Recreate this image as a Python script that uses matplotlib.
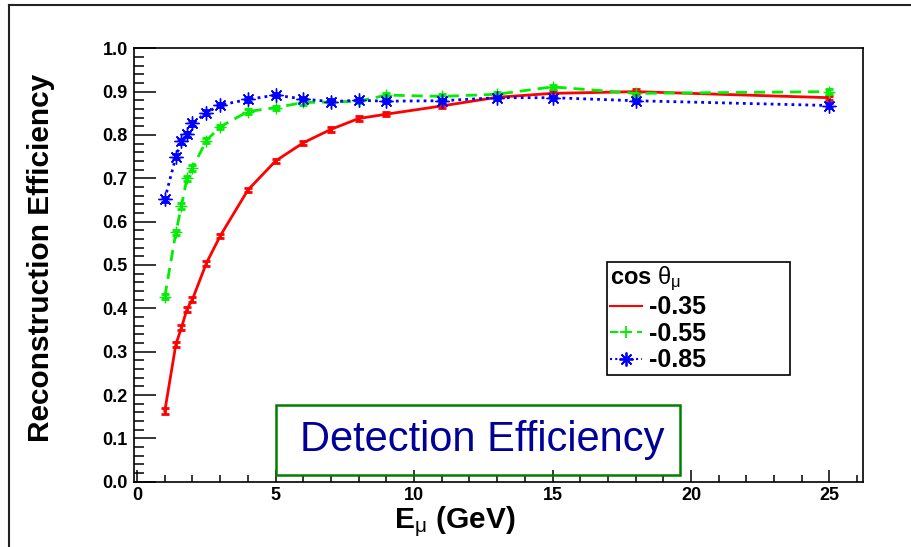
import numpy as np
import matplotlib
matplotlib.use("Agg")
import matplotlib.pyplot as plt
from matplotlib.lines import Line2D
from matplotlib.patches import Rectangle
from matplotlib.ticker import MultipleLocator

plt.rcParams['font.family'] = ['Liberation Sans', 'DejaVu Sans']
plt.rcParams['mathtext.fontset'] = 'custom'
plt.rcParams['mathtext.rm'] = 'Liberation Sans'
plt.rcParams['mathtext.it'] = 'Liberation Sans'
plt.rcParams['mathtext.bf'] = 'Liberation Sans:bold'

# muon energy (GeV)
energy = [1, 1.4, 1.6, 1.8, 2, 2.5, 3, 4, 5, 6, 7, 8, 9, 11, 13, 15, 18, 25]

# efficiency for the three cos(theta) bins
eff_035 = [0.163, 0.317, 0.355, 0.398, 0.421, 0.504, 0.567, 0.673, 0.740, 0.782,
           0.813, 0.838, 0.848, 0.867, 0.887, 0.896, 0.900, 0.886]
eff_055 = [0.427, 0.575, 0.636, 0.700, 0.724, 0.787, 0.819, 0.854, 0.863, 0.875,
           0.876, 0.878, 0.892, 0.889, 0.894, 0.911, 0.896, 0.900]
eff_085 = [0.652, 0.750, 0.785, 0.802, 0.827, 0.851, 0.869, 0.882, 0.892, 0.883,
           0.877, 0.880, 0.878, 0.879, 0.886, 0.886, 0.879, 0.868]
err = [0.006, 0.006, 0.006, 0.006, 0.006, 0.006, 0.005, 0.005, 0.005, 0.005,
       0.005, 0.005, 0.005, 0.005, 0.005, 0.005, 0.005, 0.005]

labels = ['-0.35', '-0.55', '-0.85']

W, H = 911, 547
fig = plt.figure(figsize=(W / 100, H / 100), dpi=100)
ax = fig.add_axes([133.5 / W, 1 - 481.7 / H, (862.7 - 133.5) / W, (481.7 - 48.3) / H])

styles = [dict(color='#ff0000', ls='-'),
          dict(color='#00ee00', ls=(0, (4, 2.5)), marker='+', ms=9),
          dict(color='#0000ff', ls=(0, (1, 1.5)), marker=(8, 2, 0), ms=10)]

handles = []
for vals, st in zip([eff_035, eff_055, eff_085], styles):
    ax.errorbar(energy, vals, yerr=err, lw=2, capsize=3, capthick=2, elinewidth=2, **st)
    handles.append(Line2D([], [], lw=1.5, mew=1.3, **st))

ax.set_xlim(-0.13, 26.2)
ax.set_ylim(0, 1.0)
ax.xaxis.set_major_locator(MultipleLocator(5))
ax.xaxis.set_minor_locator(MultipleLocator(1))
ax.yaxis.set_major_locator(MultipleLocator(0.1))
ax.yaxis.set_minor_locator(MultipleLocator(0.02))
ax.yaxis.set_major_formatter(plt.FormatStrFormatter('%.1f'))
ax.tick_params(axis='y', which='major', direction='in', length=15.8, width=1.1, pad=4)
ax.tick_params(axis='y', which='minor', direction='in', length=7.2, width=1.1)
ax.tick_params(axis='x', which='major', direction='in', length=8.6, width=1.1, pad=4)
ax.tick_params(axis='x', which='minor', direction='in', length=5, width=1.1)
ax.tick_params(top=False, right=False, which='both')
for lab in ax.get_xticklabels() + ax.get_yticklabels():
    lab.set_fontsize(13)
    lab.set_fontweight('bold')
for s in ax.spines.values():
    s.set_linewidth(1.2)

fig.text(41 / W, 1 - 257.5 / H, 'Reconstruction Efficiency', rotation=90,
         ha='center', va='center', fontsize=21.5, fontweight='bold')
fig.text(455 / W, 1 - 522 / H, r'E$_{\mu}$ (GeV)',
         ha='center', va='center', fontsize=21.5, fontweight='bold')

leg = fig.legend(handles, labels, loc='upper left',
                 bbox_to_anchor=(607 / W, 1 - 371 / H, (790 - 607) / W, (371 - 262) / H),
                 bbox_transform=fig.transFigure, mode='expand', borderaxespad=0,
                 title=r'cos $\theta_{\mu}$', alignment='left',
                 prop={'weight': 'bold', 'size': 18}, title_fontproperties={'weight': 'bold', 'size': 17},
                 fancybox=False, framealpha=1, edgecolor='black', handlelength=1.3,
                 handletextpad=0.3, labelspacing=0.1, borderpad=0.1)
leg.get_frame().set_linewidth(1.2)

fig.add_artist(Rectangle((276 / W, 1 - 475 / H), (680 - 276) / W, (475 - 405) / H,
                         transform=fig.transFigure, fill=False, edgecolor='#008000', lw=1.8))
fig.text(482 / W, 1 - 440 / H, 'Detection Efficiency', ha='center', va='center',
         fontsize=30, color='#000099')

fig.add_artist(Line2D([9 / W, 1], [1 - 5 / H, 1 - 5 / H], color='#222222', lw=1.5))
fig.add_artist(Line2D([9 / W, 9 / W], [0, 1 - 5 / H], color='#222222', lw=1.5))

fig.savefig('out.png', dpi=100)
